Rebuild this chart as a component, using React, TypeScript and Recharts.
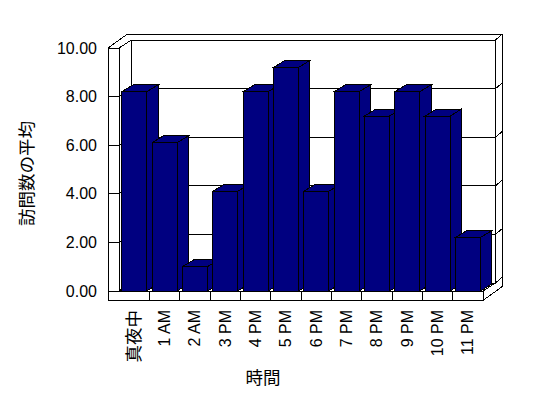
import { BarChart, Bar, XAxis, YAxis, CartesianGrid } from "recharts";

const hours = ["真夜中", "1 AM", "2 AM", "3 PM", "4 PM", "5 PM", "6 PM", "7 PM", "8 PM", "9 PM", "10 PM", "11 PM"];
const avgVisits = [8.2, 6.1, 1.0, 4.1, 8.2, 9.2, 4.1, 8.2, 7.2, 8.2, 7.2, 2.2];
const yTicks = [0, 2, 4, 6, 8, 10];

const data = hours.map((hour, i) => ({ hour, visits: avgVisits[i] }));

const NAVY = "#000080";
const LATIN = "'Liberation Sans', Arial, sans-serif";
const CJK = "'Noto Sans CJK JP', sans-serif";

// 3D box: front plane -> back wall, wall/floor thickness
const DX = 12.5, DY = -8;
const TX = 7, TY = -6;
const WALL = 11, FLOOR = 9.4;
const BAR_DX = 11.5, BAR_DY = -7;

// one gridline wraps around the walls; the first call also draws the box
const GridLine = (props: any) => {
  const { x1, x2, y1, index } = props;
  const left = x1, right = x2;
  const top = props.y, bottom = props.y + props.height;
  const isFloor = Math.abs(y1 - bottom) < 1;
  const yb = y1 + DY;

  let d = isFloor
    ? `M${left - WALL},${y1} L${right},${y1} M${left},${y1} L${left + DX},${yb} L${right + DX},${yb} L${right + DX + TX},${yb + TY} M${right},${y1} L${right + DX},${yb}`
    : `M${left - WALL},${y1} L${left},${y1} L${left + DX},${yb} L${right + DX},${yb} L${right + DX + TX},${yb + TY}`;

  if (index === 0) {
    const bw = (right - left) / hours.length;
    const ox = DX + TX, oy = DY + TY;
    d += ` M${left - WALL},${top} L${left - WALL},${bottom + FLOOR} L${right},${bottom + FLOOR} L${right + ox},${bottom + FLOOR + oy} L${right + ox},${top + oy} L${left - WALL + ox},${top + oy} Z`;
    d += ` M${left},${top} L${left},${bottom}`;
    d += ` M${right},${bottom} L${right},${bottom + FLOOR}`;
    d += ` M${left + DX},${top + DY} L${left + DX},${bottom + DY}`;
    d += ` M${right + DX},${top + DY} L${right + DX},${bottom + DY}`;
    hours.slice(0, -1).forEach((_, i) => {
      const xd = left + bw * (i + 1);
      d += ` M${xd},${bottom} L${xd},${bottom + FLOOR}`;
    });
  }

  return <path key={`grid-${index}`} d={d} stroke="#000" strokeWidth={1} fill="none" shapeRendering="crispEdges" />;
};

const Bar3D = (props: any) => {
  const { x, y, width, height, fill } = props;
  if (!height) return null;
  const r = x + width, b = y + height;
  return (
    <g stroke="#000" strokeWidth={1} fill={fill} shapeRendering="crispEdges">
      <polygon points={`${r},${y} ${r + BAR_DX},${y + BAR_DY} ${r + BAR_DX},${b + BAR_DY} ${r},${b}`} />
      <polygon points={`${x},${y} ${x + BAR_DX},${y + BAR_DY} ${r + BAR_DX},${y + BAR_DY} ${r},${y}`} />
      <rect x={x} y={y} width={width} height={height} />
    </g>
  );
};

const HourTick = (props: any) => {
  const { x, y, payload } = props;
  const label = String(payload.value);
  const cjk = /[^\x00-\x7f]/.test(label);
  return (
    <text
      transform={`translate(${x},${y + 19}) rotate(-90)`}
      textAnchor="end"
      dy="0.35em"
      fontFamily={cjk ? CJK : LATIN}
      fontSize={cjk ? 17.5 : 16}
      fill="#000"
    >
      {label}
    </text>
  );
};

const YTitle = ({ viewBox }: any) => {
  const cx = viewBox.x + 27;
  const cy = viewBox.y + viewBox.height / 2 + 4;
  return (
    <text transform={`translate(${cx},${cy}) rotate(-90)`} textAnchor="middle" dy="0.35em" fontFamily={CJK} fontSize={17.5} fill="#000">
      訪問数の平均
    </text>
  );
};

const XTitle = ({ viewBox }: any) => (
  <text x={viewBox.x + viewBox.width / 2 - 38} y={viewBox.y + 85} textAnchor="middle" dominantBaseline="central" fontFamily={CJK} fontSize={17.5} fill="#000">
    時間
  </text>
);

export default function App() {
  return (
    <div style={{ position: "absolute", left: 0, top: 0, width: 548, height: 398, background: "#fff" }}>
      <BarChart width={548} height={398} data={data} margin={{ top: 48, right: 65, left: 0, bottom: 0 }} barCategoryGap="9%">
        <CartesianGrid vertical={false} horizontal={GridLine} />
        <XAxis
          dataKey="hour"
          interval={0}
          height={107}
          tick={<HourTick />}
          tickLine={false}
          axisLine={false}
          tickSize={0}
          tickMargin={0}
          label={<XTitle />}
        />
        <YAxis
          domain={[0, 10]}
          ticks={yTicks}
          width={119}
          tickFormatter={(v: number) => v.toFixed(2)}
          tick={{ fill: "#000", fontSize: 16, fontFamily: LATIN }}
          tickLine={false}
          axisLine={false}
          tickSize={0}
          tickMargin={22}
          label={<YTitle />}
        />
        <Bar dataKey="visits" fill={NAVY} shape={<Bar3D />} isAnimationActive={false} />
      </BarChart>
    </div>
  );
}
